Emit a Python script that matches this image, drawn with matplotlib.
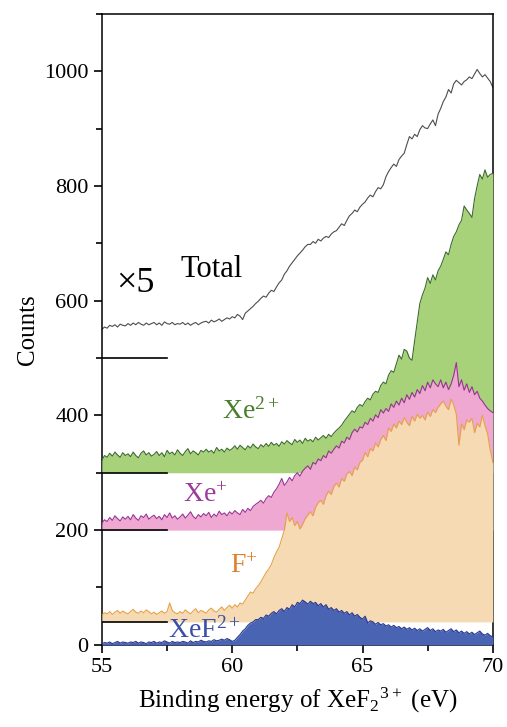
import numpy as np
import matplotlib
matplotlib.use("Agg")
import matplotlib.pyplot as plt
from matplotlib.ticker import MultipleLocator

plt.rcParams['font.family'] = ['Liberation Serif', 'DejaVu Serif']
plt.rcParams['mathtext.fontset'] = 'stix'

# ---------------- data ----------------
energy_start, energy_stop, energy_step = 55.0, 70.0, 0.1
energy = np.round(np.arange(energy_start, energy_stop + energy_step / 2, energy_step), 2)

# signals above each trace's baseline (counts)
total = [
    50, 54, 52, 57, 55, 58, 54, 59, 57, 56,
    60, 57, 61, 58, 62, 59, 57, 61, 58, 60,
    62, 58, 61, 57, 63, 60, 59, 62, 58, 60,
    59, 62, 58, 61, 57, 60, 62, 58, 61, 63,
    64, 61, 66, 63, 65, 68, 64, 67, 70, 68,
    72, 70, 76, 73, 67, 78, 82, 86, 90, 95,
    99, 104, 108, 106, 113, 118, 116, 124, 131, 136,
    146, 152, 160, 166, 172, 178, 183, 188, 194, 198,
    198, 203, 200, 207, 204, 209, 212, 210, 216, 220,
    222, 228, 234, 231, 240, 248, 252, 258, 255, 263,
    268, 272, 279, 284, 281, 290, 297, 295, 302, 316,
    325, 332, 338, 334, 346, 352, 357, 372, 386, 382,
    390, 386, 398, 405, 401, 400, 408, 415, 405, 425,
    435, 447, 455, 468, 462, 478, 484, 480, 476, 482,
    485, 490, 487, 495, 503, 496, 490, 494, 488, 482,
    472,
]

xe2 = [
    22, 30, 27, 34, 29, 36, 31, 27, 35, 30,
    33, 28, 36, 30, 26, 34, 38, 31, 35, 29,
    32, 37, 30, 35, 28, 39, 33, 36, 31, 40,
    34, 30, 37, 42, 33, 38, 35, 31, 39, 36,
    41, 36, 39, 34, 44, 38, 41, 36, 43, 39,
    42, 47, 41, 48, 44, 40, 47, 43, 50, 45,
    42, 49, 45, 51, 46, 53, 48, 51, 46, 54,
    50, 56, 52, 49, 58, 53, 57, 51, 60, 55,
    58, 54, 62, 57, 61, 65, 60, 67, 63, 69,
    74, 78, 83, 90, 96, 102, 108, 105, 114, 119,
    116, 124, 130, 127, 137, 142, 140, 152, 158, 155,
    170, 178, 175, 190, 205, 198, 215, 212, 200, 196,
    230, 262, 295, 310, 322, 340, 330, 345, 336, 352,
    360, 372, 385, 380, 398, 412, 420, 432, 440, 465,
    458, 452, 445, 478, 500, 520, 512, 528, 515, 520,
    522,
]

xe1 = [
    12, 18, 15, 22, 17, 25, 20, 16, 23, 19,
    24, 18, 27, 21, 17, 25, 22, 28, 19, 23,
    26, 20, 24, 18, 27, 22, 30, 21, 25, 19,
    23, 28, 21, 26, 32, 24, 20, 27, 23, 29,
    25, 31, 22, 28, 24, 33, 27, 30, 25, 32,
    28, 34, 30, 27, 36, 31, 38, 34, 41, 45,
    48, 52, 47, 55, 60, 57, 66, 72, 80, 90,
    78, 84, 92, 86, 95, 100, 94, 103, 108, 112,
    106, 118, 115, 124, 121, 130, 126, 138, 134, 141,
    147, 143, 155, 152, 162, 158, 170, 176, 171, 180,
    178, 188, 184, 195, 190, 201, 196, 210, 204, 212,
    207, 220, 214, 225, 218, 230, 222, 236, 228, 240,
    232, 245, 238, 252, 243, 258, 248, 262, 255, 250,
    262, 248, 258, 245, 255, 270, 292, 250, 262, 244,
    255, 240, 250, 236, 242, 230, 225, 218, 212, 208,
    205,
]

fplus = [
    12, 16, 14, 18, 13, 17, 20, 15, 19, 16,
    14, 18, 22, 17, 15, 19, 16, 21, 18, 14,
    17, 13, 16, 19, 15, 18, 33, 20, 16, 14,
    18, 15, 21, 17, 14, 19, 23, 16, 20, 18,
    15, 21, 24, 19, 17, 22, 26, 20, 25, 29,
    24, 30, 26, 33, 31, 38, 45, 52, 50, 58,
    63, 70, 78, 86, 92, 100, 112, 122, 130, 145,
    160, 190, 175, 182, 168, 175, 162, 170, 180, 186,
    192, 185, 200, 208, 212, 205, 220, 228, 222, 236,
    242, 235, 250, 245, 258, 262, 255, 270, 265, 278,
    282, 295, 288, 302, 298, 312, 305, 318, 325, 316,
    338, 332, 345, 338, 350, 344, 356, 348, 342, 358,
    350, 362, 355, 360, 352, 366, 358, 370, 365, 374,
    380, 385, 376, 370, 388, 378, 362, 308, 345, 335,
    352, 348, 355, 330, 346, 340, 360, 342, 328, 300,
    278,
]

xef2 = [
    2, 4, 3, 5, 2, 4, 6, 3, 5, 4,
    3, 5, 4, 6, 3, 5, 4, 2, 5, 4,
    6, 3, 5, 4, 7, 5, 3, 6, 4, 5,
    4, 6, 5, 3, 7, 4, 6, 5, 8, 6,
    5, 7, 6, 9, 7, 8, 10, 8, 11, 9,
    6, 8, 13, 18, 24, 28, 34, 38, 40, 44,
    44, 48, 46, 52, 50, 55, 58, 54, 60, 63,
    58, 65, 62, 70, 66, 74, 72, 78, 75, 71,
    76, 72, 74, 68, 72, 66, 70, 62, 65, 60,
    63, 57, 60, 55, 58, 52, 56, 50, 53, 48,
    45, 50, 38, 42, 40, 36, 39, 35, 37, 33,
    35, 31, 34, 30, 32, 28, 31, 27, 30, 26,
    29, 25, 28, 24, 27, 30, 25, 28, 23, 26,
    24, 27, 22, 25, 28, 23, 26, 21, 24, 20,
    23, 19, 22, 18, 21, 24, 19, 17, 20, 16,
    14,
]

baselines = {"total": 500, "xe2": 300, "xe1": 200, "fplus": 40, "xef2": 0}
labels = ["Total", r"Xe$^{\mathregular{2+}}$", r"Xe$^{\mathregular{+}}$",
          r"F$^{\mathregular{+}}$", r"XeF$^{\mathregular{2+}}$"]
x_ticks = [55, 60, 65, 70]
y_ticks = [0, 200, 400, 600, 800, 1000]

# ---------------- plot ----------------
fig = plt.figure(figsize=(5.07, 7.27), dpi=100)
ax = fig.add_axes([0.201, 0.113, 0.771, 0.868])

# Total (line only)
ax.plot(energy, np.array(total) + baselines["total"], color="#4d4d4d", lw=0.8, zorder=2)

# Xe2+
b = baselines["xe2"]
ax.fill_between(energy, b, np.array(xe2) + b, color="#a8d27a", lw=0, zorder=3)
ax.plot(energy, np.array(xe2) + b, color="#3c6b2c", lw=0.8, zorder=3)

# Xe+
b = baselines["xe1"]
ax.fill_between(energy, b, np.array(xe1) + b, color="#eea8d2", lw=0, zorder=4)
ax.plot(energy, np.array(xe1) + b, color="#9a3296", lw=0.8, zorder=4)

# F+
b = baselines["fplus"]
ax.fill_between(energy, b, np.array(fplus) + b, color="#f5dab4", lw=0, zorder=5)
ax.plot(energy, np.array(fplus) + b, color="#e8a048", lw=0.8, zorder=5)

# XeF2+
b = baselines["xef2"]
ax.fill_between(energy, b, np.array(xef2) + b, color="#4a64b4", lw=0, zorder=6)
ax.plot(energy, np.array(xef2) + b, color="#2a3890", lw=0.8, zorder=6)

# short baseline markers
for key in ["total", "xe2", "xe1", "fplus"]:
    ax.plot([55, 57.5], [baselines[key]] * 2, color="black", lw=1.2, zorder=7)

# labels
ax.text(55.55, 630, "×5", fontsize=26, color="black", va="center", ha="left", zorder=8)
ax.text(58.0, 655, labels[0], fontsize=22, color="black", va="center", ha="left", zorder=8)
ax.text(59.6, 408, labels[1], fontsize=20, color="#4b7d2e", va="center", ha="left", zorder=8)
ax.text(58.1, 260, labels[2], fontsize=20, color="#9c3a9c", va="center", ha="left", zorder=8)
ax.text(59.9, 136, labels[3], fontsize=20, color="#e07f2a", va="center", ha="left", zorder=8)
ax.text(57.55, 26, labels[4], fontsize=20, color="#3a4fa8", va="center", ha="left", zorder=8)

ax.set_xlim(55, 70)
ax.set_ylim(0, 1100)
ax.set_xticks(x_ticks)
ax.set_yticks(y_ticks)
ax.xaxis.set_minor_locator(MultipleLocator(2.5))
ax.yaxis.set_minor_locator(MultipleLocator(100))
ax.tick_params(which="both", direction="out", top=False, right=False, labelsize=16, width=1.2)
ax.tick_params(which="major", length=6)
ax.tick_params(which="minor", length=4)
for s in ax.spines.values():
    s.set_linewidth(1.1)

ax.set_xlabel(r"Binding energy of XeF$_\mathregular{2}$$^\mathregular{3+}$ (eV)", fontsize=18, labelpad=6)
ax.set_ylabel("Counts", fontsize=18, labelpad=4)

fig.savefig("out.png", dpi=100)
